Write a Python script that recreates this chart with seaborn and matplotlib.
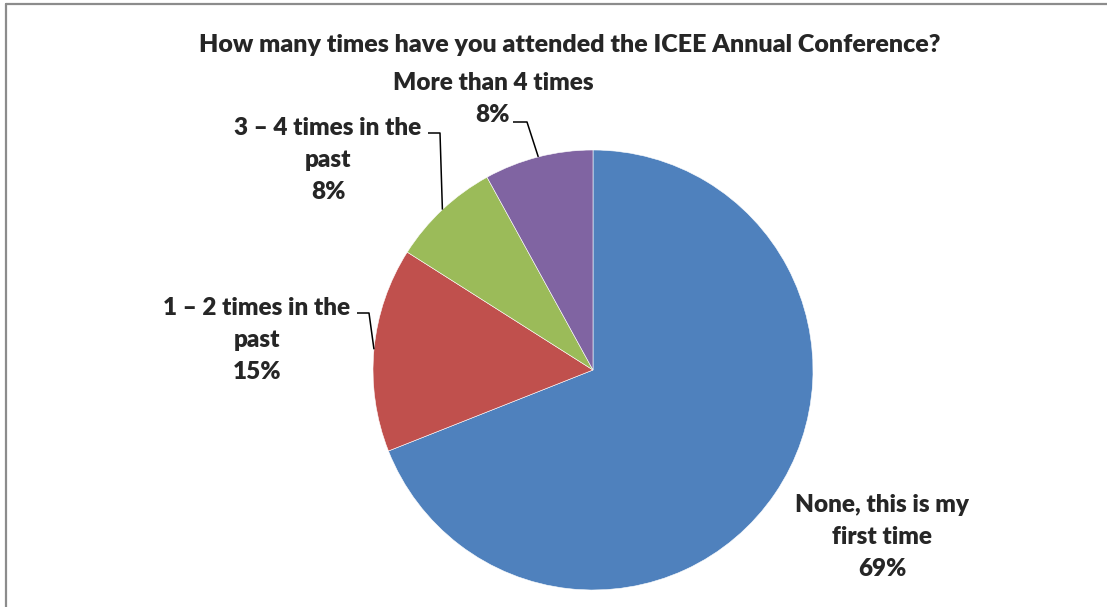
import numpy as np
import matplotlib
matplotlib.use("Agg")
import matplotlib.pyplot as plt
from matplotlib.lines import Line2D
import seaborn as sns

# survey answers, clockwise from 12 o'clock
answers = ["None, this is my\nfirst time", "1 – 2 times in the\npast",
           "3 – 4 times in the\npast", "More than 4 times"]
shares = [69, 15, 8, 8]
colors = ["#4F81BD", "#C0504D", "#9BBB59", "#8064A2"]
title = "How many times have you attended the ICEE Annual Conference?"

sns.set_style("white")
plt.rcParams["font.family"] = ["Lato", "DejaVu Sans"]

W, H = 1107, 607
fig = plt.figure(figsize=(W / 100, H / 100), dpi=100)

# pie centre (593, 370) px, radius 220 px
cx, cy, r = 593, 370, 220
ax = fig.add_axes([(cx - r) / W, (H - cy - r) / H, 2 * r / W, 2 * r / H])
wedges, _ = ax.pie(shares, colors=colors, startangle=90, counterclock=False,
                   radius=1, wedgeprops=dict(linewidth=0.4, edgecolor="white"))
ax.set_xlim(-1, 1)
ax.set_ylim(-1, 1)
ax.set_aspect("equal")
ax.axis("off")


def px(x, y):
    return (x - cx) / r, (cy - y) / r


# label centre and leader line start/elbow in pixels (None = no leader)
layout = [
    ((882, 537), None),
    ((257, 340), ((357, 313), (369, 313))),
    ((328, 160), ((428, 133), (440, 133))),
    ((493, 99), ((513, 122), (527, 122))),
]
fs = 17.5
for w, lab, v, (pos, lead) in zip(wedges, answers, shares, layout):
    tx, ty = px(*pos)
    ax.text(tx, ty, f"{lab}\n{v}%", ha="center", va="center", fontsize=fs,
            fontweight="heavy", linespacing=1.55, clip_on=False)
    if lead:
        mid = np.deg2rad((w.theta1 + w.theta2) / 2)
        ex, ey = np.cos(mid), np.sin(mid)
        (x0, y0), (x1, y1) = px(*lead[0]), px(*lead[1])
        ax.plot([x0, x1, ex], [y0, y1, ey], color="black", lw=1.1,
                clip_on=False, solid_capstyle="butt")

fig.text(570 / W, 1 - 45 / H, title, ha="center", va="center",
         fontsize=18, fontweight="heavy")

# chart frame, only top and left edges fall inside the picture
fig.add_artist(Line2D([6 / W, 1.0], [1 - 4 / H, 1 - 4 / H], color="#8c8c8c", lw=1.6))
fig.add_artist(Line2D([6 / W, 6 / W], [0, 1 - 4 / H], color="#8c8c8c", lw=1.6))

fig.savefig("out.png", dpi=100)
